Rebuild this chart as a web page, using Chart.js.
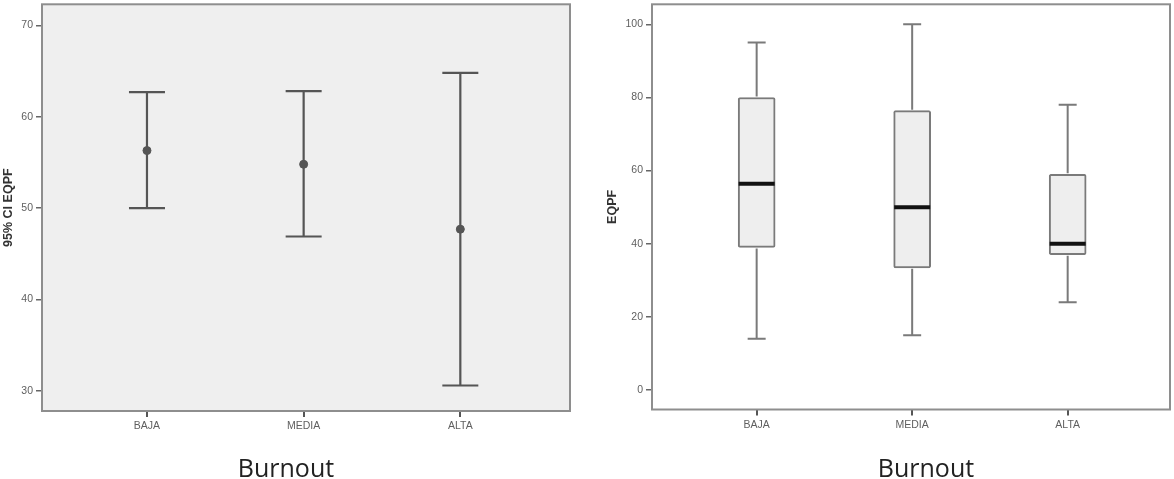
<!DOCTYPE html>
<html>
<head>
<meta charset="utf-8">
<script src="https://cdn.jsdelivr.net/npm/chart.js@4.4.1/dist/chart.umd.min.js"></script>
<style>
  body { margin: 0; background: #fff; width: 1174px; height: 479px; position: relative; overflow: hidden; }
  canvas { position: absolute; top: -5px; }
  #ci { left: 0; }
  #box { left: 590px; }
  .xtitle { position: absolute; top: 450px; font-family: "Open Sans", sans-serif; font-size: 25px; color: #222; transform: translateX(-50%); }
</style>
</head>
<body>
<canvas id="ci" width="590" height="456"></canvas>
<canvas id="box" width="584" height="456"></canvas>
<div class="xtitle" style="left:286px">Burnout</div>
<div class="xtitle" style="left:926px">Burnout</div>
<script>
// категории
const categories = ["BAJA", "MEDIA", "ALTA"];

// левый график: 95% CI EQPF
const ciMean = [56.3, 54.8, 47.7];
const ciLow = [50.0, 46.9, 30.6];
const ciHigh = [62.7, 62.8, 64.8];
const ciTicks = [30, 40, 50, 60, 70];

// правый график: boxplot EQPF
const boxMin = [14, 15, 24];
const boxQ1 = [39, 33.4, 37];
const boxMedian = [56.4, 50, 40];
const boxQ3 = [80, 76.4, 59];
const boxMax = [95, 100, 78];
const boxTicks = [0, 20, 40, 60, 80, 100];

const tickFont = { family: "Liberation Sans", size: 10.5 };
const tickColor = "#5f5f5f";

// рамка и фон области графика
const framePlugin = (bg) => ({
  id: "frame",
  beforeDraw(chart) {
    const { ctx, chartArea: a } = chart;
    if (!bg) return;
    ctx.save();
    ctx.fillStyle = bg;
    ctx.fillRect(a.left, a.top, a.right - a.left, a.bottom - a.top);
    ctx.restore();
  },
  afterDraw(chart) {
    const { ctx, chartArea: a } = chart;
    ctx.save();
    ctx.strokeStyle = "#8e8e8e";
    ctx.lineWidth = 2;
    ctx.strokeRect(a.left, a.top, a.right - a.left, a.bottom - a.top);
    ctx.restore();
  },
});

const xAxis = (min, max, height) => ({
  type: "linear",
  min,
  max,
  offset: false,
  afterBuildTicks: (s) => {
    s.ticks = categories.map((_, i) => ({ value: i + 1 }));
  },
  afterFit: (s) => {
    s.height = height;
  },
  ticks: {
    font: tickFont,
    color: tickColor,
    padding: 3,
    maxRotation: 0,
    callback: (v) => categories[v - 1],
  },
  grid: { offset: false, drawOnChartArea: false, tickLength: 6, color: "#555", lineWidth: 2 },
  border: { display: false },
});

const yAxis = (min, max, values, title, width, titlePad) => ({
  min,
  max,
  afterBuildTicks: (s) => {
    s.ticks = values.map((v) => ({ value: v }));
  },
  afterFit: (s) => {
    s.width = width;
  },
  ticks: { font: tickFont, color: tickColor, padding: 3 },
  grid: { drawOnChartArea: false, tickLength: 6, color: "#666", lineWidth: 1.5 },
  border: { display: false },
  title: {
    display: true,
    text: title,
    color: "#333",
    font: { family: "Liberation Sans", size: 12.5, weight: "bold" },
    padding: { top: titlePad, bottom: 0 },
  },
});

// доверительные интервалы
const errorBarPlugin = {
  id: "errorBars",
  beforeDatasetsDraw(chart) {
    const { ctx, scales: { x, y } } = chart;
    ctx.save();
    ctx.strokeStyle = "#555";
    ctx.lineWidth = 2.2;
    categories.forEach((_, i) => {
      const px = x.getPixelForValue(i + 1);
      const top = y.getPixelForValue(ciHigh[i]);
      const bot = y.getPixelForValue(ciLow[i]);
      ctx.beginPath();
      ctx.moveTo(px, top);
      ctx.lineTo(px, bot);
      ctx.moveTo(px - 18, top);
      ctx.lineTo(px + 18, top);
      ctx.moveTo(px - 18, bot);
      ctx.lineTo(px + 18, bot);
      ctx.stroke();
    });
    ctx.restore();
  },
};

new Chart(document.getElementById("ci"), {
  type: "scatter",
  data: {
    datasets: [
      {
        data: categories.map((_, i) => ({ x: i + 1, y: ciMean[i] })),
        pointRadius: 4,
        backgroundColor: "#555",
        borderColor: "#555",
      },
    ],
  },
  options: {
    responsive: false,
    animation: false,
    layout: { padding: { top: 0, right: 20, left: 0, bottom: 0 } },
    plugins: { legend: { display: false }, tooltip: { enabled: false } },
    scales: {
      x: xAxis(0.33, 3.7, 40),
      y: yAxis(27.81, 72.3, ciTicks, "95% CI EQPF", 42, 1),
    },
  },
  plugins: [framePlugin("#efefef"), errorBarPlugin],
});

// усы и медианы
const whiskerPlugin = {
  id: "whiskers",
  afterDatasetsDraw(chart) {
    const { ctx, scales: { x, y } } = chart;
    ctx.save();
    categories.forEach((_, i) => {
      const px = x.getPixelForValue(i + 1);
      const yMax = y.getPixelForValue(boxMax[i]);
      const yQ3 = y.getPixelForValue(boxQ3[i]);
      const yQ1 = y.getPixelForValue(boxQ1[i]);
      const yMin = y.getPixelForValue(boxMin[i]);
      ctx.strokeStyle = "#7a7a7a";
      ctx.lineWidth = 2;
      ctx.beginPath();
      ctx.moveTo(px, yMax);
      ctx.lineTo(px, yQ3 - 1);
      ctx.moveTo(px, yQ1 + 1);
      ctx.lineTo(px, yMin);
      ctx.moveTo(px - 9, yMax);
      ctx.lineTo(px + 9, yMax);
      ctx.moveTo(px - 9, yMin);
      ctx.lineTo(px + 9, yMin);
      ctx.stroke();
      const ym = y.getPixelForValue(boxMedian[i]);
      ctx.strokeStyle = "#111";
      ctx.lineWidth = 4;
      ctx.beginPath();
      ctx.moveTo(px - 18, ym);
      ctx.lineTo(px + 18, ym);
      ctx.stroke();
    });
    ctx.restore();
  },
};

new Chart(document.getElementById("box"), {
  type: "bar",
  data: {
    datasets: [
      {
        data: categories.map((_, i) => ({ x: i + 1, y: [boxQ1[i], boxQ3[i]] })),
        backgroundColor: "#eeeeee",
        borderColor: "#7a7a7a",
        borderWidth: 2,
        borderSkipped: false,
        borderRadius: 2,
        barThickness: 37,
      },
    ],
  },
  options: {
    responsive: false,
    animation: false,
    layout: { padding: { top: 0, right: 4, left: 0, bottom: 0 } },
    plugins: { legend: { display: false }, tooltip: { enabled: false } },
    scales: {
      x: xAxis(0.327, 3.658, 41.5),
      y: yAxis(-5.34, 105.48, boxTicks, "EQPF", 62, 15),
    },
  },
  plugins: [framePlugin(null), whiskerPlugin],
});
</script>
</body>
</html>
